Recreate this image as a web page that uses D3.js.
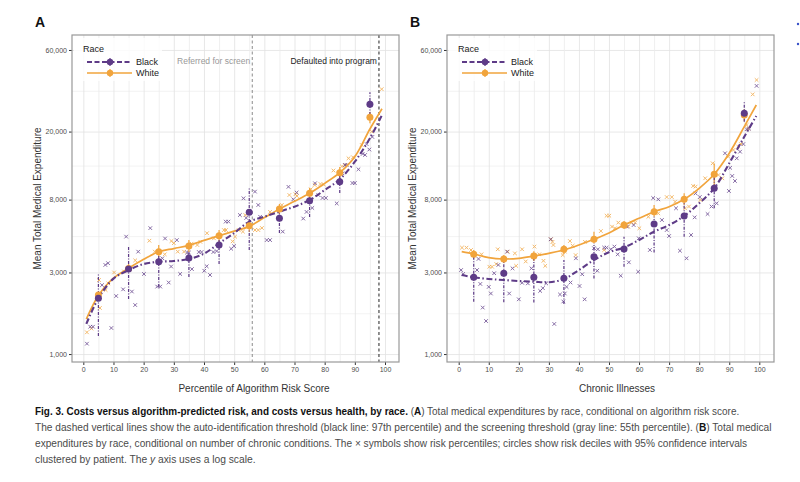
<!DOCTYPE html>
<html>
<head>
<meta charset="utf-8">
<script src="https://cdn.jsdelivr.net/npm/d3@7"></script>
<style>
  body { margin: 0; background: #fff; }
  svg text { font-family: 'Liberation Sans', Arial, sans-serif; }
</style>
</head>
<body>
<svg width="800" height="482"></svg>
<script>
const svg = d3.select('svg');

const purple = '#5e3b87';
const orange = '#f1a43c';

// tick labels
const xTicks = [0, 10, 20, 30, 40, 50, 60, 70, 80, 90, 100];
const yTicks = [1000, 3000, 8000, 20000, 60000];
// screening / auto-identification lines, where they are drawn
const thresholds = [56, 98];

const deciles = [5, 15, 25, 35, 45, 55, 65, 75, 85, 95];
const fitX = [1, 5, 10, 15, 20, 25, 30, 35, 40, 45, 50, 55, 60, 65, 70, 75, 80, 85, 90, 95, 99];

// ---- panel A : algorithm risk score ----
const aBlackMean = [2118, 3141, 3467, 3645, 4343, 6745, 6220, 7880, 10190, 28860];
const aBlackLo   = [1275, 2100, 2470, 2820, 3360, 4060, 5100, 6330, 8750, 25000];
const aBlackHi   = [2940, 4230, 3790, 3950, 4650, 9350, 7150, 8750, 11600, 34000];
const aWhiteMean = [2213, 3160, 3963, 4285, 4920, 5630, 7050, 8710, 11500, 24220];
const aWhiteLo   = [2070, 3020, 3690, 3950, 4520, 5170, 6590, 8180, 10700, 22400];
const aWhiteHi   = [2310, 3360, 4340, 4650, 5310, 6080, 7540, 9350, 12400, 26000];
const aBlackFit  = [1500, 2118, 2760, 3097, 3361, 3467, 3500, 3600, 3860, 4442, 5100, 5943, 6357, 6800, 7272, 7960, 9107, 10520, 13330, 18300, 25000];
const aWhiteFit  = [1600, 2200, 2780, 3172, 3580, 3963, 4140, 4320, 4620, 4920, 5230, 5580, 6280, 7050, 7820, 8710, 9950, 11500, 14260, 20700, 27200];
const aBlackPts = [[1.2,1150],[2.3,1445],[3.2,1445],[6.2,2530],[7.3,3320],[8.2,3400],[9.3,1420],[10.9,2185],
  [13.2,2390],[14.2,4860],[16.1,2320],[17.2,1935],[18.2,3970],[20.1,2940],[22.2,5450],[24.5,2480],[25.5,2480],
  [26.2,3630],[27.1,4740],[28.3,2620],[29.1,3250],[31,4640],[32.1,2940],[34.4,3920],[35,3920],[36,3140],
  [38.3,3950],[39.2,3950],[40.1,3070],[40.9,3260],[42,2900],[43.1,3950],[44.2,4000],[47.2,5950],[48.1,5950],
  [49,4130],[50,4280],[51.9,6500],[53.1,8140],[54,6250],[56.9,8910],[58,7440],[58.6,6350],[60.8,4640],
  [61.9,4640],[66.1,5200],[68,9500],[69.6,8030],[70.7,8800],[72.9,6200],[74,6780],[75.9,7150],[76.8,9970],
  [77.9,8510],[79.3,8180],[80.4,8180],[84,7600],[85.9,11400],[86.7,12750],[87.3,12750],[89.2,10000],[90,10000],
  [91.2,12030],[92.6,14800],[93.4,14590],[93.9,16900],[94.8,15700],[95.8,18600]];
const aWhitePts = [[1.2,1340],[2.7,1410],[5.2,2710],[5.5,1860],[7.4,2370],[8.3,2590],[10.2,3000],[13.5,3040],
  [17.2,3530],[21.9,4600],[23.7,3970],[27,3830],[29.2,4580],[30,4450],[31.3,3970],[33.4,3970],[35.9,4420],
  [37.8,4340],[38.8,4530],[41,5090],[43.3,4750],[46.6,5310],[47.3,5310],[49.5,4560],[50.3,4860],[51.5,5310],
  [52.9,5200],[53.7,6500],[56.9,5310],[58,5310],[59.2,5460],[61.9,6780],[65.8,7440],[68.3,8510],[70.3,8600],
  [70.8,8400],[75.4,9200],[76.7,9740],[78.6,9870],[79.7,9800],[82.9,11840],[85.7,12510],[86.8,12750],
  [87.9,13950],[89.4,14150],[92.3,16690],[95.6,20000],[98.9,35400]];

// ---- panel B : chronic illnesses ----
const bBlackMean = [2812, 2965, 2812, 2773, 3709, 4116, 5761, 6416, 9316, 25580];
const bBlackLo   = [2020, 2010, 2000, 1960, 2770, 3240, 3920, 4860, 7120, 22850];
const bBlackHi   = [3700, 3470, 3600, 3550, 4440, 4860, 6360, 7780, 11140, 29900];
const bWhiteMean = [3830, 3597, 3744, 4099, 4688, 5683, 6800, 8035, 11250, 25000];
const bWhiteLo   = [3630, 3410, 3500, 3850, 4450, 5390, 6360, 7440, 9750, 23000];
const bWhiteHi   = [4060, 3790, 3990, 4340, 5190, 6000, 7440, 8710, 13000, 27000];
const bBlackFit  = [2899, 2812, 2748, 2710, 2673, 2649, 2630, 2748, 3101, 3548, 3936, 4200, 4645, 5193, 5683, 6416, 7613, 9316, 13045, 18660, 24660];
const bWhiteFit  = [3970, 3846, 3660, 3597, 3630, 3744, 3882, 4059, 4343, 4688, 5100, 5683, 6220, 6800, 7272, 8035, 9316, 11250, 14930, 21360, 28610];
const bBlackPts = [[0.8,3100],[1.5,2940],[6.1,3100],[6.6,3600],[7.2,2570],[8,1870],[9.1,1560],[10,2470],
  [10.7,2260],[11.8,2970],[13.2,3320],[16.1,3970],[16.8,2260],[17.9,3170],[20,2090],[21.1,2610],[23,2590],
  [24.2,3170],[27.1,2340],[28,2430],[29.1,2590],[30.6,4690],[31.8,1500],[33.7,2230],[34.8,2030],[35.3,2260],
  [35.9,2470],[37.2,2620],[39,3630],[40.2,2500],[41.1,2930],[41.9,2090],[45,4160],[46.1,3070],[46.3,4100],
  [48.4,4190],[49.2,4190],[50.6,4100],[51.8,4250],[52.9,3830],[53.9,2870],[56,5560],[56.6,3440],[58.2,5680],
  [59.7,3030],[59.9,4750],[63.6,4060],[64.7,8170],[66.4,8030],[67.6,6080],[69.2,5310],[70,4900],[72.3,7120],
  [73.6,4020],[75.8,3630],[77.3,4970],[78.5,6300],[78.8,8700],[80.2,8280],[82.8,6590],[84.1,7290],[85.8,7610],
  [88.6,14930],[89.9,8990],[90.3,12280],[91,11000],[91.9,10280],[92.5,13950],[93.6,15250],[94.7,16900],
  [95.8,20650],[96.6,20800],[99.1,37000]];
const bWhitePts = [[1.1,4190],[2.6,4190],[4.1,4060],[7.6,3830],[10.2,3240],[11.1,3240],[12.5,3360],[13,4100],
  [16.3,3970],[18.7,3880],[19.1,3280],[21.1,4100],[22.3,3480],[25.2,4250],[26.8,3830],[28.2,3510],[28.8,3280],
  [30.7,4690],[31.2,4530],[31.5,4340],[34.6,3790],[35.3,3970],[37,4580],[37.9,4300],[38.9,3790],[42,4530],
  [47.3,5240],[48.4,4060],[49.2,6440],[50.1,6440],[51,5560],[52,5440],[53.1,5870],[56.4,5560],[57.5,5870],
  [58.7,5870],[60.1,5440],[63.1,6350],[66.4,6650],[69.2,8280],[70.9,8280],[72,7780],[75.3,7120],[76.6,7290],
  [78,9610],[78.8,9530],[80.4,7960],[82,10660],[84.5,13050],[86.4,11140],[87.7,10660],[89.7,14250],
  [91.4,15610],[93,16350],[93.9,16900],[95.8,21850],[96.3,20800],[97.8,33000],[99.1,40050]];

const captionLines = [
  [['Fig. 3. Costs versus algorithm-predicted risk, and costs versus health, by race.', 'b'], [' (', ''], ['A', 'b'],
   [') Total medical expenditures by race, conditional on algorithm risk score.', '']],
  [['The dashed vertical lines show the auto-identification threshold (black line: 97th percentile) and the screening threshold (gray line: 55th percentile). (', ''],
   ['B', 'b'], [') Total medical', '']],
  [['expenditures by race, conditional on number of chronic conditions. The \u00d7 symbols show risk percentiles; circles show risk deciles with 95% confidence intervals', '']],
  [['clustered by patient. The ', ''], ['y', 'i'], [' axis uses a log scale.', '']]
];

const plotTop = 35, plotBottom = 362;
const y = d3.scaleLog().domain([898.6, 73400]).range([plotBottom, plotTop]);
// minor grid halfway between the labelled breaks (log space)
const yMinor = d3.pairs(yTicks).map(([a, b]) => Math.sqrt(a * b));

const panels = [
  { id: 'A', left: 72, right: 399, xDomain: [-3.75, 104.64], title: 'Percentile of Algorithm Risk Score', titleX: 254,
    black: { mean: aBlackMean, lo: aBlackLo, hi: aBlackHi, fit: aBlackFit, pts: aBlackPts },
    white: { mean: aWhiteMean, lo: aWhiteLo, hi: aWhiteHi, fit: aWhiteFit, pts: aWhitePts }, lines: true },
  { id: 'B', left: 447, right: 774, xDomain: [-3.89, 104.89], title: 'Chronic Illnesses', titleX: 617,
    black: { mean: bBlackMean, lo: bBlackLo, hi: bBlackHi, fit: bBlackFit, pts: bBlackPts },
    white: { mean: bWhiteMean, lo: bWhiteLo, hi: bWhiteHi, fit: bWhiteFit, pts: bWhitePts }, lines: false }
];

const drawPanel = p => {
  const x = d3.scaleLinear().domain(p.xDomain).range([p.left, p.right]);
  const w = p.right - p.left;
  const g = svg.append('g');

  // grid
  const gridY = (vals, col) => g.append('g').attr('transform', `translate(${p.left},0)`)
    .call(d3.axisLeft(y).tickValues(vals).tickSize(-w).tickFormat(''))
    .call(s => s.select('.domain').remove())
    .selectAll('line').attr('stroke', col).attr('stroke-width', 0.8);
  gridY(yMinor, '#f0f0f0');
  gridY(yTicks, '#e2e2e2');
  const gridX = (vals, col) => g.append('g').attr('transform', `translate(0,${plotBottom})`)
    .call(d3.axisBottom(x).tickValues(vals).tickSize(-(plotBottom - plotTop)).tickFormat(''))
    .call(s => s.select('.domain').remove())
    .selectAll('line').attr('stroke', col).attr('stroke-width', 0.8);
  gridX(deciles, '#ebebeb');
  gridX(xTicks, '#e2e2e2');

  // axes
  const yAxis = g.append('g').attr('transform', `translate(${p.left},0)`)
    .call(d3.axisLeft(y).tickValues(yTicks).tickFormat(d3.format(',')).tickSize(3).tickPadding(2));
  yAxis.select('.domain').remove();
  yAxis.selectAll('line').attr('stroke', '#333');
  yAxis.selectAll('text').attr('font-size', 7).attr('fill', '#4d4d4d');

  const xAxis = g.append('g').attr('transform', `translate(0,${plotBottom})`)
    .call(d3.axisBottom(x).tickValues(xTicks).tickSize(3).tickPadding(2));
  xAxis.select('.domain').remove();
  xAxis.selectAll('line').attr('stroke', '#333');
  xAxis.selectAll('text').attr('font-size', 7).attr('fill', '#4d4d4d');

  g.append('text').attr('x', p.titleX).attr('y', 392).attr('text-anchor', 'middle')
    .attr('font-size', 10).attr('fill', '#333').text(p.title);
  g.append('text').attr('transform', `translate(${p.left - 31},${(plotTop + plotBottom) / 2}) rotate(-90)`)
    .attr('text-anchor', 'middle').attr('font-size', 10).attr('fill', '#333')
    .text('Mean Total Medical Expenditure');
  g.append('text').attr('x', p.left - 37).attr('y', 27).attr('font-size', 14).attr('font-weight', 'bold')
    .attr('fill', '#111').text(p.id);

  // threshold lines (panel A only)
  if (p.lines) {
    const cols = ['#8a8a8a', '#222'];
    const labels = ['Referred for screen', 'Defaulted into program'];
    thresholds.forEach((t, i) => {
      g.append('line').attr('x1', x(t)).attr('x2', x(t)).attr('y1', plotTop).attr('y2', plotBottom)
        .attr('stroke', cols[i]).attr('stroke-width', 1).attr('stroke-dasharray', '3,2.5');
      g.append('text').attr('x', x(t) - 2).attr('y', 64).attr('text-anchor', 'end')
        .attr('font-size', 8.5).attr('fill', i ? '#222' : '#999').text(labels[i]);
    });
  }

  const line = d3.line().x(d => x(d[0])).y(d => y(d[1])).curve(d3.curveCatmullRom);
  // white first, black drawn on top
  const series = [
    { s: p.white, color: orange, barDash: null, fitDash: null, fitW: 1.7 },
    { s: p.black, color: purple, barDash: '3,1.5,1,1.5', fitDash: '6,2.5,1.5,2.5', fitW: 2.1 }
  ];

  // percentile crosses
  series.forEach(d => {
    g.append('g').selectAll('path').data(d.s.pts).enter().append('path')
      .attr('transform', v => `translate(${x(v[0])},${y(v[1])})`)
      .attr('d', 'M-1.8,-1.8L1.8,1.8M-1.8,1.8L1.8,-1.8')
      .attr('stroke', d.color).attr('stroke-width', 1).attr('opacity', 0.75);
  });

  // confidence intervals
  series.forEach(d => {
    g.append('g').selectAll('line').data(deciles).enter().append('line')
      .attr('x1', v => x(v)).attr('x2', v => x(v))
      .attr('y1', (v, i) => y(d.s.lo[i])).attr('y2', (v, i) => y(d.s.hi[i]))
      .attr('stroke', d.color).attr('stroke-width', 1.2).attr('stroke-dasharray', d.barDash);
  });

  // fitted curves
  series.forEach(d => {
    g.append('path').datum(d3.zip(fitX, d.s.fit)).attr('d', line)
      .attr('fill', 'none').attr('stroke', d.color).attr('stroke-width', d.fitW)
      .attr('stroke-dasharray', d.fitDash);
  });

  // decile means
  series.forEach(d => {
    g.append('g').selectAll('circle').data(deciles).enter().append('circle')
      .attr('cx', v => x(v)).attr('cy', (v, i) => y(d.s.mean[i])).attr('r', 3.5)
      .attr('fill', d.color);
  });

  // legend
  const lg = g.append('g').attr('transform', `translate(${p.left},0)`);
  lg.append('rect').attr('x', 2).attr('y', 38).attr('width', 88).attr('height', 43)
    .attr('fill', '#fff').attr('opacity', 0.8);
  lg.append('text').attr('x', 11).attr('y', 52).attr('font-size', 9).attr('fill', '#222').text('Race');
  [['Black', purple, '5,2.5', 2.1, 62], ['White', orange, null, 1.7, 73]].forEach(([name, col, dash, sw, ly]) => {
    lg.append('line').attr('x1', 15).attr('x2', 60).attr('y1', ly).attr('y2', ly)
      .attr('stroke', col).attr('stroke-width', sw).attr('stroke-dasharray', dash);
    lg.append('line').attr('x1', 38).attr('x2', 38).attr('y1', ly - 4).attr('y2', ly + 4)
      .attr('stroke', col).attr('stroke-width', 1.2);
    lg.append('circle').attr('cx', 38).attr('cy', ly).attr('r', 3.2).attr('fill', col);
    lg.append('text').attr('x', 64).attr('y', ly + 3.3).attr('font-size', 9).attr('fill', '#222').text(name);
  });

  g.append('rect').attr('x', p.left).attr('y', plotTop).attr('width', w).attr('height', plotBottom - plotTop)
    .attr('fill', 'none').attr('stroke', '#999').attr('stroke-width', 1.2);
};

panels.forEach(drawPanel);

// caption: regular sans squeezed horizontally to the condensed widths of the original
const capWidths = [705, 737, 713, 221];
captionLines.forEach((parts, i) => {
  const row = svg.append('g');
  const t = row.append('text').attr('x', 0).attr('y', 0).attr('font-size', 11).attr('fill', '#4a4a4a');
  parts.forEach(([s, f]) => {
    t.append('tspan').text(s)
      .attr('font-weight', f === 'b' ? 'bold' : null)
      .attr('font-style', f === 'i' ? 'italic' : null)
      .attr('fill', f === 'b' ? '#111' : null);
  });
  const k = capWidths[i] / t.node().getComputedTextLength();
  row.attr('transform', `translate(35,${415 + i * 16}) scale(${k},1)`);
});

// clipped marks at the right edge of the page
svg.selectAll('circle.edge').data([24, 44]).enter().append('circle')
  .attr('class', 'edge').attr('cx', 798).attr('cy', d => d).attr('r', 1.2).attr('fill', '#3a52c8');
</script>
</body>
</html>
